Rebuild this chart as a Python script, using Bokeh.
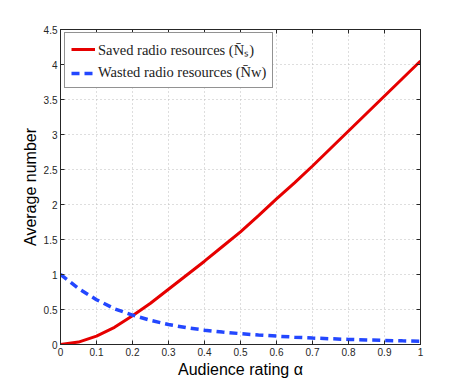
from bokeh.plotting import figure
from bokeh.models import (Range1d, LinearAxis, FixedTicker, CustomJSTickFormatter,
                          Legend, LegendItem, ColumnDataSource)
from bokeh.embed import file_html
from bokeh.resources import INLINE

# ---- data ----
alpha = [0.0, 0.05, 0.1, 0.15, 0.2, 0.25, 0.3, 0.35, 0.4, 0.45, 0.5,
         0.55, 0.6, 0.65, 0.7, 0.75, 0.8, 0.85, 0.9, 0.95, 1.0]
saved = [0.0, 0.035, 0.12, 0.245, 0.41, 0.59, 0.79, 0.99, 1.19, 1.40, 1.61,
         1.84, 2.08, 2.31, 2.55, 2.80, 3.05, 3.30, 3.55, 3.80, 4.05]
wasted = [1.0, 0.80, 0.64, 0.51, 0.42, 0.345, 0.285, 0.24, 0.205, 0.178, 0.155,
          0.136, 0.12, 0.105, 0.092, 0.082, 0.073, 0.065, 0.058, 0.052, 0.047]
x_ticks = [0, 0.1, 0.2, 0.3, 0.4, 0.5, 0.6, 0.7, 0.8, 0.9, 1]
y_ticks = [0, 0.5, 1, 1.5, 2, 2.5, 3, 3.5, 4, 4.5]
label_saved = "Saved radio resources (N\u0304\u209b)"
label_wasted = "Wasted radio resources (N\u0304w)"

src = ColumnDataSource(dict(a=alpha, s=saved, w=wasted))

p = figure(width=457, height=380, output_backend="svg", toolbar_location=None,
           x_range=Range1d(0, 1), y_range=Range1d(0, 4.5),
           min_border_left=60, min_border_right=37, min_border_top=29,
           min_border_bottom=36, x_axis_label="Audience rating \u03b1",
           y_axis_label="Average number")
p.background_fill_color = "white"
p.border_fill_color = "white"
p.outline_line_color = "#262626"
p.outline_line_width = 1

fmt = CustomJSTickFormatter(code="return String(Math.round(tick*10)/10);")
blank = CustomJSTickFormatter(code="return '';")

for ax, ticks in ((p.xaxis[0], x_ticks), (p.yaxis[0], y_ticks)):
    ax.ticker = FixedTicker(ticks=ticks)
    ax.formatter = fmt
    ax.major_tick_in = 4
    ax.major_tick_out = 0
    ax.minor_tick_line_color = None
    ax.axis_line_color = "#262626"
    ax.major_tick_line_color = "#262626"
    ax.major_label_text_font = "Liberation Sans"
    ax.major_label_text_font_size = "10px"
    ax.major_label_text_color = "#262626"
    ax.axis_label_text_font = "Liberation Sans"
    ax.axis_label_text_font_size = "16px"
    ax.axis_label_text_font_style = "normal"
    ax.axis_label_text_color = "black"
    ax.major_label_standoff = 3
    ax.axis_label_standoff = 2

top = LinearAxis(ticker=FixedTicker(ticks=x_ticks), formatter=blank,
                 major_tick_in=4, major_tick_out=0, minor_tick_line_color=None,
                 axis_line_color="#262626", major_tick_line_color="#262626",
                 major_label_standoff=0)
right = LinearAxis(ticker=FixedTicker(ticks=y_ticks), formatter=blank,
                   major_tick_in=4, major_tick_out=0, minor_tick_line_color=None,
                   axis_line_color="#262626", major_tick_line_color="#262626",
                   major_label_standoff=0)
p.add_layout(top, "above")
p.add_layout(right, "right")

for g in (p.xgrid[0], p.ygrid[0]):
    g.grid_line_color = "#bcbcbc"
    g.grid_line_dash = "1 3"
    g.grid_line_width = 1
p.xgrid[0].ticker = FixedTicker(ticks=x_ticks)
p.ygrid[0].ticker = FixedTicker(ticks=y_ticks)

r1 = p.line("a", "s", source=src, line_color="#e60000", line_width=3)
r2 = p.line("a", "w", source=src, line_color="#2347ff", line_width=3.5,
            line_dash="8 5")

legend = Legend(items=[LegendItem(label=label_saved, renderers=[r1]),
                       LegendItem(label=label_wasted, renderers=[r2])],
                location=(4, 256), orientation="vertical",
                label_text_font="'Liberation Serif', 'Times New Roman', serif",
                label_text_font_size="14.5px",
                label_text_color="#222222",
                glyph_width=24, glyph_height=16, label_height=16,
                label_standoff=3, spacing=5, padding=6, margin=0,
                border_line_color="#262626", border_line_width=1,
                background_fill_color="white", background_fill_alpha=1)
p.add_layout(legend, "center")

open("out.html", "w").write(file_html(p, INLINE))
